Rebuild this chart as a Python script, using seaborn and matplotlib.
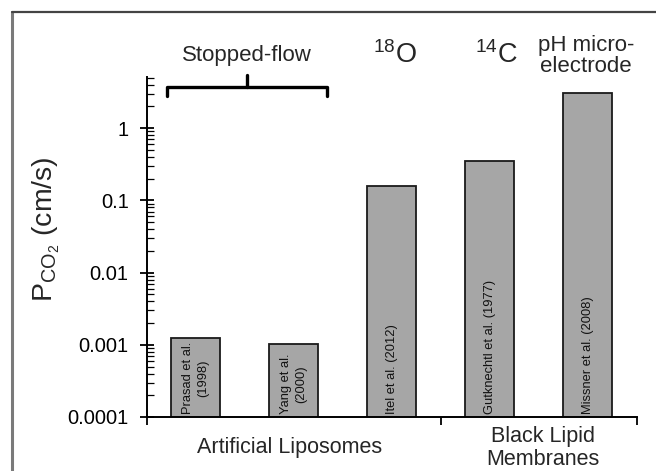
import matplotlib
matplotlib.use("Agg")
import matplotlib.pyplot as plt
import seaborn as sns
import pandas as pd
import numpy as np
from matplotlib.ticker import FixedLocator, FuncFormatter, LogLocator, NullFormatter
from matplotlib.lines import Line2D

studies = ["Prasad", "Yang", "Itel", "Gutknecht", "Missner"]
bar_labels = ["Prasad et al.\n(1998)", "Yang et al.\n(2000)", "Itel et al. (2012)",
              "Gutknechtl et al. (1977)", "Missner et al. (2008)"]
pco2 = [0.00125, 0.00102, 0.158, 0.347, 3.1]
group_names = ["Artificial Liposomes", "Black Lipid\nMembranes"]
method_labels = ["Stopped-flow", r"$^{18}$O", r"$^{14}$C", "pH micro-\nelectrode"]
ytick_vals = [0.0001, 0.001, 0.01, 0.1, 1]
ytick_text = ["0.0001", "0.001", "0.01", "0.1", "1"]

sns.set_theme(style="white")
plt.rcParams["font.family"] = ["Liberation Sans", "DejaVu Sans"]
plt.rcParams["mathtext.fontset"] = "custom"
plt.rcParams["mathtext.rm"] = "Liberation Sans"
plt.rcParams["mathtext.it"] = "Liberation Sans:italic"
plt.rcParams["mathtext.bf"] = "Liberation Sans:bold"

W, H = 656, 471
fig = plt.figure(figsize=(W / 100, H / 100), dpi=100)
ax = fig.add_axes([146.7 / W, 1 - 417 / H, (637 - 146.7) / W, (417 - 77) / H])

def fx(x):
    return x / W

def fy(y):
    return 1 - y / H

df = pd.DataFrame({"study": studies, "P": pco2})
ax.set_yscale("log")
sns.barplot(data=df, x="study", y="P", color="#a6a6a6", width=0.5,
            edgecolor="#1a1a1a", linewidth=1.3, saturation=1, ax=ax)
ax.set_ylim(1e-4, 5.1)
ax.set_xlim(-0.5, 4.5)

for s in ["top", "right"]:
    ax.spines[s].set_visible(False)
for s in ["left", "bottom"]:
    ax.spines[s].set_color("black")
    ax.spines[s].set_linewidth(1.4)

ax.yaxis.set_major_locator(FixedLocator(ytick_vals))
ax.yaxis.set_major_formatter(FuncFormatter(lambda v, p: ytick_text[ytick_vals.index(v)] if v in ytick_vals else ""))
ax.yaxis.set_minor_locator(LogLocator(base=10, subs=np.arange(2, 10), numticks=20))
ax.yaxis.set_minor_formatter(NullFormatter())
ax.tick_params(axis="y", which="major", direction="inout", length=10, width=1.3,
               colors="black", labelsize=14.5, left=True, pad=8)
ax.tick_params(axis="y", which="minor", direction="in", length=5, width=0.9,
               colors="black", left=True)

ax.set_xticks([-0.5, 2.5, 4.5])
ax.set_xticklabels(["", "", ""])
ax.tick_params(axis="x", which="major", direction="out", length=6, width=1.3,
               colors="black", bottom=True)
ax.set_xlabel("")
ax.set_ylabel("")
fig.text(fx(46), fy(229), r"$\mathrm{P_{CO_2}}$ (cm/s)", rotation=90,
         ha="center", va="center", fontsize=20.5)

for i, lab in enumerate(bar_labels):
    ax.text(i, 1.1e-4, lab, rotation=90, ha="center", va="bottom",
            fontsize=9.3, color="#111111", linespacing=1.3)

fig.text(fx(290), fy(447), group_names[0], ha="center", va="center", fontsize=15.5)
fig.text(fx(543), fy(448), group_names[1], ha="center", va="center", fontsize=15.5,
         linespacing=1.1)

fig.text(fx(247), fy(55), method_labels[0], ha="center", va="center", fontsize=16)
fig.text(fx(395), fy(55), method_labels[1], ha="center", va="center", fontsize=19.5)
fig.text(fx(496), fy(55), method_labels[2], ha="center", va="center", fontsize=19.5)
fig.text(fx(586), fy(56), method_labels[3], ha="center", va="center", fontsize=16,
         linespacing=1.05)

bx = [fx(167), fx(167), fx(327), fx(327)]
by = [fy(96), fy(87), fy(87), fy(96)]
fig.add_artist(Line2D(bx, by, color="black", lw=2.4, solid_joinstyle="round"))
fig.add_artist(Line2D([fx(247), fx(247)], [fy(87), fy(75)], color="black", lw=2.4))

fig.add_artist(Line2D([fx(12), fx(12)], [fy(480), fy(12)], color="#7a7a7a", lw=2.2))
fig.add_artist(Line2D([fx(12), fx(660)], [fy(12), fy(12)], color="#444444", lw=1.6))

fig.savefig("out.png", dpi=100)
